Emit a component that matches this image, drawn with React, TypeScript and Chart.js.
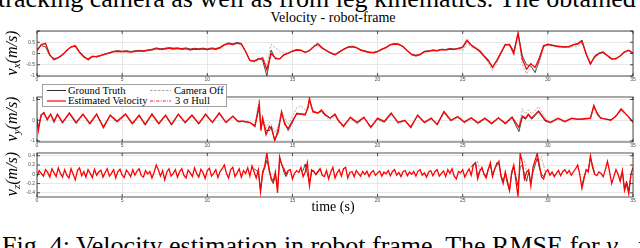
import React, { useEffect, useRef } from 'react';
import { Chart, registerables } from 'chart.js';

Chart.register(...registerables);

// ---------- time axis ----------
const T_MIN = 0;
const T_MAX = 35;
const T_TICK_STEP = 5;

// ---------- v_x panel (uniform sampling every 0.25 s) ----------
const VX_STEP = 0.25;
const vxEst = [
  0.12, 0.40, 0.45, -0.05, -0.28, -0.18, -0.05, 0.15, 0.30, 0.33,
  0.05, -0.15, -0.25, -0.12, -0.15, -0.08, -0.03, 0.02, 0.08, 0.10,
  0.08, 0.10, 0.06, 0.09, 0.12, 0.10, 0.14, 0.16, 0.22, 0.18,
  0.20, 0.24, 0.20, 0.23, 0.19, 0.22, 0.16, 0.20, 0.18, 0.21,
  0.17, 0.22, 0.19, 0.25, 0.38, 0.44, 0.40, 0.46, 0.42, 0.10,
  -0.30, -0.35, -0.25, -0.20, -0.72, 0.00, -0.20, -0.25, -0.05, 0.00,
  0.10, 0.15, 0.14, 0.05, 0.12, 0.30, 0.40, 0.24, 0.12, 0.02,
  -0.06, 0.06, 0.18, 0.27, 0.30, 0.26, 0.15, 0.10, 0.05, 0.03,
  0.08, 0.18, 0.26, 0.38, 0.42, 0.40, 0.30, 0.12, -0.05, -0.10,
  -0.05, 0.08, 0.10, 0.14, 0.12, 0.17, 0.16, 0.20, 0.18, 0.22,
  0.30, 0.60, 0.38, 0.25, 0.12, -0.10, -0.30, -0.62, -0.30, 0.05,
  0.40, 0.38, 0.00, 0.92, -0.25, -0.70, -0.45, -0.62, -0.20, 0.35,
  0.40, 0.36, 0.32, 0.30, 0.28, 0.30, 0.38, 0.42, 0.55, -0.05,
  -0.45, -0.15, 0.00, 0.05, -0.10, -0.25, -0.22, -0.10, 0.08, 0.15,
  0.02,
];
const vxGt = [
  0.20, 0.35, 0.30, -0.10, -0.22, -0.20, -0.08, 0.12, 0.28, 0.36,
  0.08, -0.12, -0.30, -0.15, -0.12, -0.10, -0.02, 0.04, 0.10, 0.12,
  0.10, 0.12, 0.09, 0.12, 0.14, 0.12, 0.16, 0.19, 0.25, 0.21,
  0.23, 0.26, 0.24, 0.25, 0.22, 0.25, 0.20, 0.23, 0.21, 0.24,
  0.20, 0.25, 0.22, 0.28, 0.40, 0.47, 0.43, 0.49, 0.45, 0.08,
  -0.32, -0.33, -0.22, -0.30, -1.00, 0.15, -0.25, -0.22, -0.08, 0.02,
  0.12, 0.18, 0.15, 0.06, 0.14, 0.32, 0.45, 0.26, 0.14, 0.04,
  -0.04, 0.08, 0.20, 0.29, 0.32, 0.27, 0.17, 0.12, 0.07, 0.05,
  0.10, 0.20, 0.28, 0.40, 0.45, 0.42, 0.32, 0.14, -0.03, -0.08,
  -0.03, 0.10, 0.12, 0.16, 0.14, 0.19, 0.18, 0.22, 0.20, 0.24,
  0.25, 0.55, 0.35, 0.22, 0.08, -0.15, -0.35, -0.58, -0.35, 0.00,
  0.38, 0.42, 0.10, 0.88, -0.10, -0.50, -0.55, -0.85, -0.30, 0.30,
  0.42, 0.38, 0.34, 0.32, 0.30, 0.32, 0.40, 0.45, 0.60, 0.00,
  -0.50, -0.10, 0.02, 0.08, -0.08, -0.22, -0.25, -0.12, 0.05, 0.12,
  0.00,
];
const vxCam = [
  0.10, 0.38, 0.42, -0.08, -0.30, -0.20, -0.08, 0.12, 0.28, 0.30,
  0.02, -0.18, -0.28, -0.15, -0.18, -0.10, -0.05, 0.00, 0.06, 0.08,
  0.06, 0.08, 0.04, 0.07, 0.10, 0.08, 0.12, 0.14, 0.20, 0.16,
  0.18, 0.22, 0.18, 0.21, 0.17, 0.20, 0.14, 0.18, 0.16, 0.19,
  0.15, 0.20, 0.17, 0.23, 0.36, 0.42, 0.38, 0.44, 0.40, 0.05,
  -0.32, -0.38, -0.28, -0.15, -0.55, 0.40, 0.25, 0.10, 0.05, 0.02,
  0.08, 0.13, 0.12, 0.03, 0.15, 0.35, 0.50, 0.28, 0.10, 0.00,
  -0.08, 0.04, 0.16, 0.25, 0.34, 0.30, 0.13, 0.08, 0.03, 0.01,
  0.06, 0.16, 0.28, 0.42, 0.45, 0.38, 0.28, 0.10, -0.07, -0.12,
  -0.07, 0.06, 0.08, 0.12, 0.10, 0.15, 0.14, 0.18, 0.16, 0.20,
  0.12, 0.45, 0.30, 0.22, 0.05, -0.15, -0.40, -0.75, -0.45, 0.00,
  0.35, 0.40, -0.10, 0.85, -0.50, -0.90, -0.60, -0.75, -0.45, 0.28,
  0.38, 0.34, 0.30, 0.28, 0.26, 0.28, 0.30, 0.30, 0.45, 0.10,
  -0.40, -0.20, -0.02, 0.03, -0.15, -0.28, -0.25, -0.12, 0.05, 0.12,
  0.00,
];

// ---------- v_y panel (samples at peaks / troughs) ----------
const vyT = [
  0, 0.08, 0.24, 0.4, 0.6, 0.8, 1.0, 1.2, 1.5, 1.9,
  2.3, 2.7, 3.1, 3.5, 3.9, 4.3, 4.7, 5.2, 5.6, 6.0,
  6.35, 6.75, 7.15, 7.55, 7.9, 8.3, 8.7, 9.1, 9.5, 9.9,
  10.3, 10.7, 11.1, 11.5, 11.8, 12.1, 12.5, 12.8, 13.05, 13.15,
  13.25, 13.45, 13.65, 13.77, 13.96, 14.16, 14.36, 14.55, 14.75, 14.95,
  15.25, 15.5, 15.75, 15.9, 16.0, 16.2, 16.5, 16.7, 16.9, 17.2,
  17.5, 17.7, 18.0, 18.4, 18.8, 19.2, 19.6, 20.0, 20.4, 20.8,
  21.2, 21.6, 21.95, 22.35, 22.75, 23.15, 23.5, 23.9, 24.3, 24.7,
  25.1, 25.5, 25.9, 26.3, 26.7, 27.1, 27.5, 27.9, 28.3, 28.5,
  28.7, 28.85, 29.05, 29.45, 29.85, 30.15, 30.6, 31.0, 31.4, 31.7,
  32.0, 32.5, 32.7, 32.9, 33.1, 33.4, 33.7, 34.0, 34.3, 34.7,
  35.0,
];
const vyEst = [
  0.05, -0.5, 0.25, 0.35, 0.05, 0.3, -0.05, 0.3, -0.1, 0.35,
  -0.1, 0.3, -0.15, 0.3, -0.35, 0.25, -0.05, 0.3, -0.15, 0.25,
  -0.2, 0.3, -0.15, 0.25, -0.2, 0.3, -0.1, 0.25, -0.15, 0.3,
  -0.1, 0.35, -0.1, 0.2, -0.05, -0.05, -0.1, -0.3, 0.8, -0.5,
  0.1, -0.7, -0.3, -0.4, -0.95, -0.6, 0.4, -0.2, -0.4, -0.1,
  0.3, 0.3, 0.25, 0.6, 1.05, 0.4, 0.35, 0.5, 0.3, 0.1,
  0.3, 0.0, -0.3, 0.15, -0.1, 0.15, -0.35, 0.1, -0.05, 0.35,
  -0.1, 0.0, -0.35, 0.25, -0.1, 0.1, -0.2, 0.42, 0.0, 0.18,
  -0.08, 0.12, -0.12, 0.1, -0.15, 0.12, -0.15, 0.15, -0.35, 0.2,
  0.1, 0.3, 0.1, 0.45, 0.0, -0.1, 0.1, -0.05, 0.1, 0.05,
  0.06, 0.1, 0.72, 0.3, 0.1, 0.05, 0.0, 0.2, 0.55, 0.2,
  -0.1,
];
const vyGt = [
  0.1, -0.35, 0.2, 0.4, 0.0, 0.28, -0.1, 0.27, -0.12, 0.32,
  -0.15, 0.28, -0.18, 0.27, -0.3, 0.22, -0.08, 0.28, -0.18, 0.22,
  -0.22, 0.27, -0.18, 0.22, -0.22, 0.27, -0.13, 0.22, -0.18, 0.27,
  -0.12, 0.32, -0.12, 0.18, -0.08, -0.05, -0.12, -0.25, 0.6, -0.4,
  0.0, -0.5, -0.5, -0.3, -1.0, -0.4, 0.3, -0.1, -0.5, -0.2,
  0.35, 0.3, 0.3, 0.55, 0.95, 0.45, 0.35, 0.45, 0.25, 0.12,
  0.25, -0.05, -0.25, 0.12, -0.15, 0.12, -0.3, 0.05, -0.1, 0.3,
  -0.12, -0.02, -0.3, 0.22, -0.12, 0.08, -0.22, 0.38, -0.02, 0.15,
  -0.1, 0.1, -0.15, 0.08, -0.18, 0.1, -0.18, 0.12, -0.55, 0.15,
  0.05, 0.25, 0.05, 0.4, -0.05, -0.12, 0.08, -0.08, 0.08, 0.05,
  0.05, 0.08, 0.65, 0.35, 0.12, 0.05, 0.02, 0.18, 0.5, 0.22,
  -0.08,
];
const vyCam = [
  0.0, -0.3, 0.3, 0.3, -0.05, 0.25, -0.15, 0.25, -0.2, 0.3,
  -0.2, 0.25, -0.25, 0.25, -0.4, 0.2, -0.15, 0.25, -0.25, 0.2,
  -0.28, 0.25, -0.22, 0.2, -0.28, 0.25, -0.18, 0.2, -0.22, 0.25,
  -0.18, 0.3, -0.15, 0.15, -0.1, -0.08, -0.15, -0.2, 1.0, -0.3,
  0.2, -0.4, -0.1, -0.2, -0.6, -0.3, 0.5, 0.1, -0.2, 0.1,
  0.6, 0.7, 0.5, 0.65, 0.9, 0.5, 0.3, 0.4, 0.2, 0.0,
  0.2, -0.1, -0.35, 0.1, -0.2, 0.1, -0.4, 0.05, -0.12, 0.3,
  -0.18, -0.05, -0.38, 0.2, -0.15, 0.05, -0.25, 0.35, -0.05, 0.12,
  -0.15, 0.08, -0.2, 0.05, -0.2, 0.08, -0.2, 0.1, -0.3, 0.55,
  0.3, 0.5, 0.3, 0.65, 0.1, -0.15, 0.05, -0.1, 0.05, 0.08,
  0.08, 0.12, 0.6, 0.25, 0.08, 0.08, 0.0, 0.25, 0.45, 0.15,
  -0.12,
];

// ---------- v_z panel (uniform sampling every 0.125 s) ----------
const VZ_STEP = 0.125;
const vzEst = [
  -0.05, 0.08, 0.02, -0.04, 0.10, 0.04, -0.06, 0.12,
  0.03, -0.05, 0.14, 0.02, -0.06, 0.10, -0.02, -0.08,
  0.12, 0.00, -0.12, 0.08, 0.14, -0.03, 0.06, -0.06,
  0.10, 0.02, -0.07, 0.11, -0.02, 0.05, 0.09, -0.06,
  0.04, 0.12, -0.04, 0.02, 0.10, -0.08, 0.06, 0.11,
  -0.02, -0.07, 0.09, 0.03, -0.05, 0.10, -0.02, 0.07,
  0.12, -0.03, -0.06, 0.08, 0.01, 0.06, -0.08, 0.04,
  0.20, 0.10, -0.04, 0.08, -0.12, 0.05, 0.12, -0.04,
  0.02, 0.10, -0.06, 0.06, 0.12, -0.02, -0.08, 0.09,
  0.03, -0.05, 0.14, 0.02, -0.06, 0.11, 0.04, -0.09,
  0.08, 0.13, -0.04, 0.02, 0.10, -0.07, 0.06, 0.12,
  0.20, 0.02, -0.08, 0.10, 0.15, -0.05, 0.03, 0.12,
  -0.06, 0.08, 0.02, 0.14, -0.04, 0.18, 0.05, -0.08,
  0.10, -0.38, 0.05, 0.18, 0.46, 0.10, -0.08, -0.15,
  0.05, -0.40, 0.38, 0.20, 0.12, 0.00, 0.08, 0.10,
  -0.10, 0.02, 0.08, 0.04, 0.15, -0.05, 0.05, 0.25,
  -0.25, 0.10, 0.06, 0.00, 0.05, 0.12, -0.02, -0.05,
  0.08, -0.10, 0.05, 0.15, -0.08, 0.03, 0.10, -0.04,
  0.12, 0.15, -0.08, 0.04, 0.06, -0.05, 0.08, 0.02,
  -0.04, 0.06, 0.00, 0.07, -0.05, 0.04, 0.08, -0.02,
  0.03, 0.07, -0.04, 0.05, 0.01, 0.08, -0.03, 0.06,
  0.10, -0.02, 0.04, -0.05, 0.06, 0.08, -0.03, 0.05,
  0.00, 0.06, -0.04, 0.07, 0.10, -0.02, 0.03, -0.06,
  0.05, 0.08, -0.03, 0.06, 0.10, -0.04, 0.02, 0.07,
  -0.05, 0.10, 0.02, 0.12, -0.04, -0.10, 0.06, 0.03,
  0.10, -0.06, 0.04, 0.12, -0.02, 0.20, 0.25, -0.10,
  0.06, 0.15, 0.00, -0.08, 0.10, 0.25, -0.05, 0.12,
  0.20, 0.28, -0.05, -0.20, 0.05, -0.15, -0.35, 0.05,
  0.20, -0.15, -0.48, 0.45, 0.25, -0.10, 0.05, 0.10,
  -0.25, 0.15, 0.30, 0.45, 0.20, -0.05, -0.10, 0.05,
  0.10, -0.02, 0.05, -0.05, 0.02, 0.08, -0.03, 0.06,
  0.10, 0.02, 0.08, -0.02, 0.05, 0.12, 0.20, 0.00,
  -0.30, -0.10, 0.10, 0.05, 0.40, 0.15, 0.00, -0.03,
  0.05, 0.02, -0.05, 0.10, 0.28, 0.05, -0.20, -0.05,
  0.10, 0.00, -0.15, 0.08, -0.35, -0.20, -0.42, 0.00,
  0.15,
];
// ground truth / camera-off only where they show from under the estimate (null = hidden)
const vzGtT = [
  12.75, 13.0, 13.125, 13.25, 13.375, 13.5, 13.625, 13.75, 13.875, 14.0, 14.125, 14.25, 14.375, 14.5, 14.625, 14.75, 14.8,
  15.5, 15.625, 15.75, 15.875, 16.0, 16.125, 16.25, 16.375, 16.5, 16.625, 16.7,
  25.5, 25.625, 25.75, 25.875, 26.0, 26.125, 26.25, 26.375, 26.5, 26.625, 26.75, 26.875, 27.0, 27.125,
  27.25, 27.375, 27.5, 27.625, 27.75, 27.875, 28.0, 28.125, 28.25, 28.375, 28.5, 28.625, 28.75, 28.875,
  29.0, 29.125, 29.25, 29.375, 29.5, 29.625, 29.75, 29.875, 29.9,
  32.0, 32.125, 32.25, 32.375, 32.5, 32.625, 32.75, 32.8,
  34.25, 34.375, 34.5, 34.625, 34.75, 34.875,
];
const vzGt = [
  0.12, 0.05, -0.35, 0.00, 0.15, 0.30, 0.15, -0.12, -0.20, 0.00, -0.30, 0.30, 0.22, 0.05, -0.05, 0.05, null,
  0.05, 0.08, 0.22, 0.02, -0.20, 0.05, 0.08, -0.02, 0.08, 0.12, null,
  0.15, 0.22, 0.25, -0.05, 0.08, 0.12, 0.02, -0.05, 0.12, 0.20, -0.02, 0.10, 0.25, 0.22,
  -0.02, -0.15, 0.02, -0.20, -0.35, 0.00, 0.15, -0.05, -0.25, 0.15, 0.20, 0.00, -0.15, 0.05,
  -0.20, 0.05, 0.20, 0.35, 0.15, 0.00, -0.05, 0.05, null,
  -0.25, -0.05, 0.08, 0.10, 0.35, 0.18, 0.02, null,
  -0.10, 0.05, -0.30, -0.15, -0.35, -0.05,
];
const vzCamT = [
  13.375, 13.5, 13.625, 13.75, 13.8,
  16.5, 16.625, 16.75, 16.8,
  25.75, 25.875, 26.0, 26.05,
  28.5, 28.625, 28.75, 28.875, 28.9,
  29.5, 29.625, 29.75, 29.875, 29.9,
  32.5, 32.625, 32.75,
];
const vzCam = [
  0.12, 0.40, 0.05, -0.05, null,
  0.05, 0.10, 0.02, null,
  0.18, 0.30, 0.05, null,
  0.35, 0.30, 0.05, 0.10, null,
  0.30, 0.38, 0.20, 0.00, null,
  0.30, 0.25, 0.05,
];

// ---------- styling ----------
const TICK_FONT = { size: 5, family: '"Liberation Sans", Arial, sans-serif' };
const TICK_COLOR = '#4d4d4d';
const GRID_COLOR = '#dedede';

type Pt = { x: number; y: number | null };
const uniform = (vals: number[], step: number): Pt[] => vals.map((v, i) => ({ x: i * step, y: v }));
const paired = (ts: number[], vals: (number | null)[]): Pt[] => ts.map((t, i) => ({ x: t, y: vals[i] }));

const boxPlugin = {
  id: 'matlabBox',
  afterDatasetsDraw(chart: any) {
    const { ctx, chartArea: a, scales } = chart;
    ctx.save();
    ctx.strokeStyle = '#262626';
    ctx.lineWidth = 0.8;
    ctx.strokeRect(a.left, a.top, a.right - a.left, a.bottom - a.top);
    ctx.beginPath();
    const xs = scales.x;
    const ys = scales.y;
    xs.ticks.forEach((t: any) => {
      const px = xs.getPixelForValue(t.value);
      ctx.moveTo(px, a.top);
      ctx.lineTo(px, a.top + 3);
      ctx.moveTo(px, a.bottom);
      ctx.lineTo(px, a.bottom - 3);
    });
    ys.ticks.forEach((t: any) => {
      const py = ys.getPixelForValue(t.value);
      ctx.moveTo(a.left, py);
      ctx.lineTo(a.left + 3, py);
      ctx.moveTo(a.right, py);
      ctx.lineTo(a.right - 3, py);
    });
    ctx.stroke();
    ctx.restore();
  },
};

function makeChart(
  canvas: HTMLCanvasElement,
  est: Pt[],
  gt: Pt[],
  cam: Pt[],
  yMin: number,
  yMax: number,
  yStep: number,
  hidden: number[],
) {
  return new Chart(canvas, {
    type: 'line',
    data: {
      datasets: [
        { data: est as any, borderColor: '#ff0000', borderWidth: 1.3, pointRadius: 0, tension: 0, clip: 0 as any },
        { data: cam as any, borderColor: '#9a9a9a', borderWidth: 0.8, borderDash: [2, 1.5], pointRadius: 0, tension: 0, clip: 0 as any, spanGaps: false },
        { data: gt as any, borderColor: '#1a1a1a', borderWidth: 0.8, pointRadius: 0, tension: 0, clip: 0 as any, spanGaps: false },
      ],
    },
    options: {
      animation: false,
      responsive: false,
      maintainAspectRatio: false,
      events: [],
      layout: { padding: { left: 0, right: 7, top: 3, bottom: 0 } },
      plugins: { legend: { display: false }, tooltip: { enabled: false } },
      scales: {
        x: {
          type: 'linear',
          min: T_MIN,
          max: T_MAX,
          afterFit: (s: any) => { s.height = 8; },
          ticks: { stepSize: T_TICK_STEP, autoSkip: false, maxRotation: 0, padding: 1, font: TICK_FONT, color: TICK_COLOR },
          grid: { color: GRID_COLOR, lineWidth: 0.7, drawTicks: false },
          border: { display: false },
        },
        y: {
          type: 'linear',
          min: yMin,
          max: yMax,
          afterFit: (s: any) => { s.width = 37; },
          ticks: {
            stepSize: yStep,
            includeBounds: false,
            padding: 2,
            font: TICK_FONT,
            color: TICK_COLOR,
            callback: (v: any) => {
              const n = Math.round(Number(v) * 100) / 100;
              return hidden.includes(n) ? '' : String(n);
            },
          },
          grid: { color: GRID_COLOR, lineWidth: 0.7, drawTicks: false },
          border: { display: false },
        },
      },
    },
    plugins: [boxPlugin],
  } as any);
}

const abs = (o: React.CSSProperties): React.CSSProperties => ({ position: 'absolute', ...o });

function YLabel({ sub, cy }: { sub: string; cy: number }) {
  return (
    <div
      style={abs({
        left: 14,
        top: cy,
        transform: 'translate(-50%, -50%) rotate(-90deg)',
        whiteSpace: 'nowrap',
        fontSize: 16,
        lineHeight: '16px',
        fontStyle: 'italic',
      })}
    >
      v<sub style={{ fontSize: 11, verticalAlign: '-3px' }}>{sub}</sub>(m/s)
    </div>
  );
}

export default function App() {
  const c1 = useRef<HTMLCanvasElement>(null);
  const c2 = useRef<HTMLCanvasElement>(null);
  const c3 = useRef<HTMLCanvasElement>(null);

  useEffect(() => {
    const ch1 = makeChart(c1.current!, uniform(vxEst, VX_STEP), uniform(vxGt, VX_STEP), uniform(vxCam, VX_STEP), -1, 1, 0.5, [1]);
    const ch2 = makeChart(c2.current!, paired(vyT, vyEst), paired(vyT, vyGt), paired(vyT, vyCam), -1.05, 1.12, 1, []);
    const ch3 = makeChart(c3.current!, uniform(vzEst, VZ_STEP), paired(vzGtT, vzGt), paired(vzCamT, vzCam), -0.49, 0.46, 0.2, []);
    return () => {
      ch1.destroy();
      ch2.destroy();
      ch3.destroy();
    };
  }, []);

  return (
    <div
      style={{
        position: 'fixed',
        left: 0,
        top: 0,
        width: 640,
        height: 248,
        overflow: 'hidden',
        background: '#ffffff',
        color: '#000',
        fontFamily: '"Liberation Serif", "Times New Roman", serif',
      }}
    >
      <div style={abs({ left: -2, top: -14, fontSize: 26, lineHeight: '26px', whiteSpace: 'nowrap' })}>
        tracking camera as well as from leg kinematics. The obtained
      </div>
      <div style={abs({ left: 0, width: 666, top: 10.5, fontSize: 14, lineHeight: '14px', textAlign: 'center', whiteSpace: 'nowrap' })}>
        Velocity - robot-frame
      </div>

      <canvas ref={c1} width={640} height={58} style={abs({ left: 0, top: 26, width: 640, height: 58 })} />
      <canvas ref={c2} width={640} height={58} style={abs({ left: 0, top: 92, width: 640, height: 58 })} />
      <canvas ref={c3} width={640} height={57} style={abs({ left: 0, top: 148, width: 640, height: 57 })} />

      <YLabel sub="x" cy={52.5} />
      <YLabel sub="y" cy={118.5} />
      <YLabel sub="z" cy={174} />

      <div style={abs({ left: 42, top: 84, width: 185, height: 23, background: '#fff', border: '1px solid #a0a0a0', boxSizing: 'border-box' })}>
        <svg width={185} height={23} style={abs({ left: -1, top: -1 })}>
          <line x1={5} y1={6.5} x2={24} y2={6.5} stroke="#1a1a1a" strokeWidth={0.9} />
          <line x1={108} y1={6.5} x2={129} y2={6.5} stroke="#9a9a9a" strokeWidth={0.9} strokeDasharray="2.5 1.5" />
          <line x1={5} y1={17} x2={24} y2={17} stroke="#ff0000" strokeWidth={1.2} />
          <line x1={108} y1={17} x2={129} y2={17} stroke="#ff0000" strokeWidth={0.9} strokeDasharray="3 1.3 0.8 1.3" />
        </svg>
        <div style={abs({ left: 25, top: 0.5, fontSize: 10.5, lineHeight: '10.5px', whiteSpace: 'nowrap' })}>Ground Truth</div>
        <div style={abs({ left: 131, top: 0.5, fontSize: 10.5, lineHeight: '10.5px', whiteSpace: 'nowrap' })}>Camera Off</div>
        <div style={abs({ left: 25, top: 11, fontSize: 10.5, lineHeight: '10.5px', whiteSpace: 'nowrap' })}>Estimated Velocity</div>
        <div style={abs({ left: 132, top: 11, fontSize: 10.5, lineHeight: '10.5px', whiteSpace: 'nowrap' })}>3 σ Hull</div>
      </div>

      <div style={abs({ left: 0, width: 666, top: 200, fontSize: 14, lineHeight: '14px', textAlign: 'center', whiteSpace: 'nowrap' })}>
        time (s)
      </div>

      <div style={abs({ left: 2, top: 233, fontSize: 26, lineHeight: '26px', whiteSpace: 'nowrap' })}>
        Fig. 4: Velocity estimation in robot frame. The RMSE for <i>v</i>
        <sub style={{ fontSize: 17 }}><i>x</i></sub>, <i>v</i>
        <sub style={{ fontSize: 17 }}><i>y</i></sub>
      </div>
    </div>
  );
}
